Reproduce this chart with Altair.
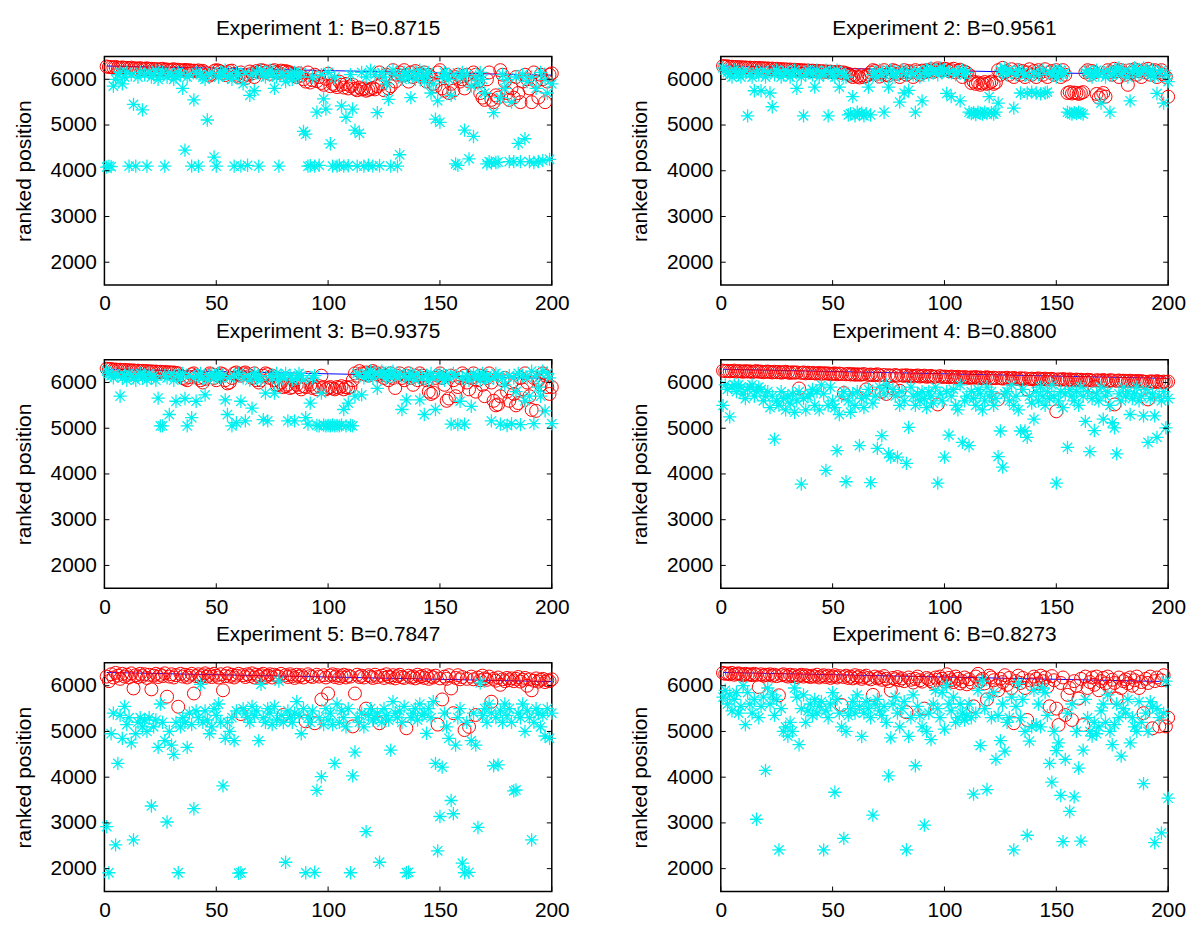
import altair as alt
import pandas as pd

X = list(range(1, 201))
XTICKS = [0, 50, 100, 150, 200]
YTICKS = [2000, 3000, 4000, 5000, 6000]
LINE_X = [1, 200]
LINE_Y = [6290, 6090]

TITLES = ["Experiment 1: B=0.8715", "Experiment 2: B=0.9561", "Experiment 3: B=0.9375",
          "Experiment 4: B=0.8800", "Experiment 5: B=0.7847", "Experiment 6: B=0.8273"]

R1 = [6280,6270,6265,6260,6270,6255,6250,6260,6245,6250,6240,6255,6235,6240,6230,6245,6225,6230,6240,6220,
      6230,6215,6225,6210,6220,6230,6205,6215,6200,6210,6220,6195,6210,6200,6190,6205,6195,6200,6185,6190,
      6180,6195,6170,6185,6150,6100,6080,6120,6180,6200,6190,6170,6130,6090,6150,6180,6190,6120,6080,6050,
      6150,6060,6020,6100,6170,6130,6050,6180,6160,6200,6190,6150,6170,6120,6180,6200,6160,6140,6190,6170,
      6180,6160,6150,6120,6100,6050,6130,6080,6000,5950,6150,5930,5980,6100,5960,6050,5920,5880,6010,6120,
      5850,5900,5870,5830,5950,5880,5820,5900,5800,5850,5880,5790,5760,5820,5780,5800,5750,5770,5790,5810,
      5780,5850,6150,5900,5760,6100,5800,5850,6200,5950,6100,6150,6080,6200,6100,5950,6150,6050,6180,6100,
      6120,6080,6150,5950,6100,6050,5900,5850,6150,6200,5800,5750,6100,5700,5900,5750,6050,6100,5950,6000,
      5800,6100,5950,6000,6150,6100,5950,5700,5600,5550,6000,6150,5550,5500,5650,5600,6200,6100,5950,5700,
      5550,5800,5600,6050,5700,5500,5950,6100,6000,5800,5500,6150,5950,5600,6100,6000,5500,5950,6100,6130]
C1 = [4080,4100,4090,5850,6000,6100,6150,5900,6050,6150,4100,6100,5450,4100,6050,6150,5330,6100,4100,6150,
      6050,6100,6200,6000,6100,6150,4100,6050,6150,6100,6000,6050,6150,6100,5800,4450,6050,6100,4100,5550,
      6150,4100,6100,6050,6000,5110,6100,6150,4300,4100,6050,6150,6100,6200,6050,6100,6000,4100,6150,6100,
      4100,5900,6150,4120,5650,6100,5750,6150,4100,6200,6100,6050,6150,6200,6100,5800,6050,4100,6150,6100,
      5950,6050,6100,6000,6150,6100,6050,6150,4860,4800,4100,4110,6050,4100,5280,4120,6100,5570,5350,6150,
      4590,4100,6050,4100,4120,5420,4100,5170,4110,6100,5350,4890,4100,4820,6150,4100,6050,4120,6200,4100,
      6100,5270,4110,6150,6050,5900,5560,4100,6200,6100,4100,4350,6000,6150,6100,6050,5600,6150,6000,6100,
      6200,6050,5950,6100,6150,5700,5900,5130,5530,5060,6050,6150,6100,6000,5650,6100,4150,4120,6050,6150,
      4890,6100,4260,5850,4750,6050,5900,6150,6000,5700,4150,4200,4170,5270,4180,4190,5600,6100,5800,6000,
      4200,5500,4200,6050,4600,4200,6100,4700,5950,4200,6050,4180,5800,4200,6150,4220,6000,5700,4250,5900]

R2 = [6290,6280,6285,6270,6275,6265,6270,6260,6265,6255,6260,6250,6255,6245,6250,6240,6250,6235,6245,6230,
      6240,6225,6235,6220,6230,6215,6225,6210,6220,6205,6215,6200,6210,6195,6205,6190,6200,6185,6195,6180,
      6190,6175,6185,6170,6180,6165,6175,6160,6170,6155,6160,6150,6165,6140,6150,6130,6120,6080,6050,6100,
      6060,6040,6090,6050,6070,6100,6150,6200,6180,6120,6060,6150,6200,6100,6080,6150,6200,6180,6120,6050,
      6150,6200,6100,6180,6150,6050,6200,6170,6100,6190,6150,6200,6180,6220,6160,6200,6240,6210,6190,6230,
      6220,6180,6200,6230,6150,6190,6210,6050,6170,6140,6100,5920,5950,5900,5930,5880,5910,5940,5900,5920,
      5950,5900,5930,6200,6100,6250,6150,6180,6100,6220,6050,6150,6200,6100,6180,6050,6150,6220,6100,6180,
      6050,6200,6150,6100,6220,6050,6150,6180,6100,6200,6150,6050,6200,6100,5700,5720,5690,5710,5700,5680,
      5700,5720,6150,6200,6100,6180,6150,5680,5600,5650,5700,5620,6200,6150,6100,6230,6180,6050,6200,6150,
      6100,5880,6200,6150,6220,6100,6180,6050,6200,6150,6230,6100,6180,6200,6050,6150,6200,6100,6050,5620]
C2 = [6250,6200,6150,6100,6050,6200,6150,6100,6050,6150,6200,5200,6100,6050,5750,6150,6100,5750,6200,6050,
      6150,5700,5400,6100,6200,6150,6050,6100,6200,6150,6050,6100,6200,5800,6150,6050,5200,6100,6200,6150,
      6100,5830,6200,6050,6150,6100,6200,5200,6150,6100,6050,6200,5830,6150,6100,6050,5220,5250,5620,5200,
      5280,5230,5260,5200,5250,5830,5220,6100,6150,6050,6200,6100,5280,6150,5830,6200,6100,6050,6150,5500,
      6200,5700,6100,5760,6150,6100,5280,6200,6050,5530,6150,6200,6100,6250,6150,6200,6100,6250,6150,6200,
      5690,6150,5620,6200,6100,6150,5530,6200,6100,6150,5280,5250,5270,5230,5280,5260,5240,5280,5250,5620,
      5270,5240,5280,5480,6200,6150,6250,6100,6200,6150,5370,6100,6200,5700,6150,6100,5700,6050,5720,6150,
      5700,6100,5680,6200,5700,5720,6150,6100,6200,6050,6150,6200,6100,6150,5280,5260,5240,5270,5250,5280,
      5260,5240,6150,6200,6100,6050,6150,6200,6100,5480,6150,6050,6200,5280,6100,6150,6200,6250,6100,6150,
      6200,6050,5530,6150,6250,6200,6100,6150,6250,6200,6150,6100,6200,6050,5690,6150,6200,5480,6100,5950]

R3 = [6300,6290,6295,6280,6285,6275,6280,6270,6275,6265,6270,6260,6265,6255,6260,6250,6255,6245,6250,6240,
      6245,6235,6240,6230,6235,6225,6230,6220,6225,6215,6220,6210,6200,6150,6100,6080,6050,6120,6180,6200,
      6150,6100,6050,6000,6080,6150,6200,6180,6100,6050,6150,6200,6180,6050,5980,6000,6100,6200,6220,6180,
      6150,6200,6220,6180,6150,6100,6200,6050,6000,6050,6150,6200,6180,6100,6150,6050,5950,5950,6000,5900,
      5920,5950,5880,5900,6050,5950,5900,5850,5920,5900,6100,5950,5880,5900,5850,5920,6150,5900,5850,5880,
      5900,5870,5850,5900,5880,5920,5850,5900,5880,5900,6050,6200,6150,6250,6200,6180,6220,6150,6200,6250,
      6220,6180,6150,6200,6100,6150,6050,6200,6100,5880,6150,6200,6100,6050,6150,6200,6100,5950,6150,6050,
      6200,6150,6100,6050,5800,5750,5780,6100,6150,6200,6100,5950,5600,5650,6150,6050,5700,5900,6100,6200,
      6150,6000,5850,6100,6200,5800,6050,6150,5950,5700,6100,6200,6000,5600,5500,5520,5700,6050,6100,5800,
      5600,6000,5750,5500,5550,6100,5850,6200,6000,5700,5400,6100,5380,6050,5950,6200,6150,5900,5750,5900]
C3 = [6250,6200,6150,6100,6200,6150,5700,6100,6150,6050,6200,6150,6100,6050,6150,6200,6100,6150,6050,6200,
      6100,6150,6050,5660,5050,5050,6150,6100,5300,6200,6050,5590,6150,6100,6200,5650,5050,6150,5230,6100,
      5590,6150,6200,6100,5730,6050,6150,6200,6100,6150,6200,6100,6150,5620,5300,6100,5050,6150,5120,6200,
      5590,6100,5160,6150,6050,5440,6200,6100,6150,6050,5190,5770,5160,6150,6100,5770,6200,6050,6150,6100,
      6200,5160,6150,6050,5160,6100,6200,6150,6050,5230,5090,5550,6100,6150,5060,5050,5770,5070,5050,5060,
      5050,5070,5050,5060,5050,5070,5410,5050,5550,5060,5050,5700,6200,6150,5730,6100,6200,6150,6250,6100,
      6200,5870,6150,6250,6200,6100,6150,6200,6250,6150,6100,6200,5410,6150,5620,6100,6200,6150,6050,6200,
      5620,6100,5300,6150,6050,6200,6100,5410,6150,6200,6100,6050,6150,6100,5090,6200,6150,5080,5590,6100,
      5090,6150,6050,5480,6200,6100,6150,6050,6200,6100,6150,6050,5160,6100,6200,6150,5090,6100,5950,5060,
      6150,5100,6100,5800,6200,5080,6150,5600,6100,5700,6250,5100,6150,5900,5700,6250,5380,6200,6100,5100]

R4 = [6260,6250,6255,6245,6250,6260,6240,6250,6245,6235,6250,6240,6245,6230,6240,6250,6235,6240,6225,6235,
      6240,6230,6220,6235,6225,6230,6215,6225,6235,6220,6210,6225,6215,6220,5870,6210,6220,6200,6215,6205,
      6210,6200,6195,6210,6190,6205,6195,6200,6185,6190,6200,6180,6195,6185,5770,6180,6190,6175,6185,6170,
      6180,6170,6175,6185,5850,6165,6175,6160,6170,6180,6155,5800,6165,5750,6160,6150,5870,6165,6150,5820,
      6155,6145,6160,6140,6150,6135,6145,6155,6130,6140,6150,6125,6135,6145,6120,6130,5520,6140,6120,6130,
      6125,6115,6130,6120,6110,6125,6115,6105,6120,6110,6100,6115,6105,6120,6100,6110,6095,6105,6115,6100,
      6090,6105,6095,5630,6100,6085,6095,6105,6080,6090,6100,6085,6075,6095,6080,6090,5850,6075,6085,6070,
      6080,6090,6070,6075,6085,6065,6075,6080,6065,5370,6070,6060,6075,6065,6055,6070,6060,6050,6065,6055,
      6060,6050,6045,6060,6055,6040,5910,6050,6045,6035,6055,6040,6030,6050,6045,5520,6035,6045,6030,6040,
      6035,6025,6040,6030,6020,6035,6025,6030,6020,6015,5630,6025,6020,6010,6030,6015,6005,6020,6010,6020]
C4 = [5500,5950,5850,5250,5900,5950,5800,5950,5900,5750,5650,5850,5900,5950,5700,5800,5900,5850,5600,5700,
      5800,5450,5700,4760,5600,5500,5800,5650,5400,5700,5550,5750,5350,5600,5800,3780,5650,5400,5700,5750,
      5850,5500,5800,5400,5950,5750,4080,5500,5900,5600,5450,4510,5300,5700,5800,3830,5600,5350,5750,5500,
      5800,4620,5650,5450,5700,5850,3810,5550,5700,4560,5900,4840,5750,5950,4440,4370,5850,5700,4370,5500,
      5800,5600,4230,5020,5900,5700,5500,5750,5600,5800,5650,5450,5800,5700,5550,5900,3800,5750,5600,4370,
      5800,4850,5700,5850,5500,5400,5950,4690,5600,5700,4620,5800,5650,5500,5850,5750,5400,5600,5900,5700,
      5800,5500,5650,4380,4940,4150,5750,5800,5600,5950,5500,5700,5400,4940,5850,4940,4800,5700,5550,5200,
      5800,5600,5900,5700,5500,5800,5650,5950,5700,3800,5600,5800,5450,5750,4580,5850,5700,5600,5800,5500,
      5900,5700,5150,5800,4490,5650,4950,5750,5600,5900,5200,5700,5800,5500,5120,5010,4440,5750,5600,5900,
      5700,5800,5300,5650,5750,5900,5600,5700,5270,5850,4690,5650,5750,5270,4800,5700,5600,5800,5010,5650]

R5 = [6200,6100,6250,6180,6280,6220,6150,6260,6200,6240,6180,6270,5940,6230,6190,6260,6210,6250,6170,6240,
      5920,6220,6260,6190,6240,6210,6270,5760,6200,6250,6180,6230,5540,6260,6200,6240,6180,6220,6260,5830,
      6210,6250,6180,6230,6270,6200,6240,6190,6260,6220,6180,6250,5900,6210,6270,6200,6240,6180,6220,6260,
      5380,6230,6190,6250,6210,6270,6180,6240,6200,6230,6260,6190,6220,6250,6180,6240,6210,6200,6260,5360,
      6230,6190,6250,6210,6170,6240,6200,6230,6180,5220,6250,6210,6190,5180,6240,6200,5700,6230,6180,5830,
      6220,6250,6190,6230,6170,6210,6240,6180,6220,6200,5110,5830,6240,6190,6220,6180,5500,6230,6200,6170,
      6240,6190,5180,6220,6170,6250,6200,6180,6230,6160,6210,6240,6190,6170,5070,6220,6180,6200,6160,6240,
      6190,6210,6170,6230,6150,6200,6180,6220,5150,6160,5700,6200,6150,6230,5940,5400,6170,6230,6140,6190,
      5030,6150,5100,6200,6140,5360,6180,6120,6220,6160,6130,6200,5650,6150,6110,6180,6020,6140,6100,6170,
      6120,6160,6100,6150,6190,6090,6130,6170,6000,6140,5900,6110,6160,6090,6130,6150,6080,6120,6100,6140]
C5 = [2920,1910,4950,5400,2520,4300,5350,4850,5550,5150,5300,4750,2630,4950,5200,5300,5100,5250,5000,5300,
      3370,5100,5250,4650,5600,5200,4800,3020,5000,4700,4500,5200,1910,5100,5300,5200,4650,5400,5150,3310,
      5450,5300,6030,5200,5450,5250,4950,5100,5500,5350,5600,5200,3810,4850,5200,5000,5300,4800,5450,1900,
      1910,5500,5400,5300,5200,5550,5350,5450,4800,6030,5300,5200,5500,5400,5150,5550,5250,6100,5350,5200,
      2140,5450,5300,5200,5400,5650,5350,4950,5500,1910,5300,5200,5450,1920,3710,5300,4010,5150,5500,5250,
      5400,5150,4300,5600,5200,5450,5300,5100,5500,1910,4030,4550,5300,5200,5400,5100,2810,5350,5500,5250,
      5300,5400,2140,5200,5500,5350,5250,4590,5650,5400,5300,5450,5200,5550,1910,1920,5300,5400,5500,5250,
      5600,5350,5400,4960,5500,5300,5650,4300,2390,3140,4220,5400,5100,4850,3490,3200,4700,5300,5500,2120,
      1910,5200,1920,4800,5400,4700,2900,6060,5350,5500,5200,5600,5400,4250,5300,4270,5450,5200,5600,5350,
      5500,5200,3700,3720,5400,5300,5600,5000,5450,5300,2630,5200,5500,5400,5100,5350,4900,5500,4850,5400]

R6 = [6280,6260,6270,6250,6280,6240,6260,6270,6250,6230,6260,6240,6250,6230,6260,6240,5970,6250,6220,6240,
      6230,6250,6220,6240,6210,5790,6230,6250,6220,6200,6240,6210,6230,6190,6220,6240,6200,6230,6210,6190,
      6220,6200,6240,6180,6210,6230,6190,6220,6170,6200,6230,6180,6210,5580,6190,6220,6170,6200,6160,6230,
      6180,6210,6150,6190,6220,6170,6140,5800,6200,6160,6180,6130,6210,6150,6100,5900,6170,6140,6190,6120,
      6160,6100,5420,6180,6130,6070,6150,6200,6120,6090,5500,6170,6140,6100,6060,6180,6130,6200,6150,6090,
      6250,6170,6120,6080,6200,6150,6050,6100,6180,6030,6140,6070,5550,6200,6260,6100,6150,6050,5700,6220,
      6180,6120,6000,5900,6150,6080,6230,6020,6170,5950,5180,6100,6220,6060,6170,5950,5250,6120,6030,6200,
      6150,6050,6220,6100,6180,5980,5550,6210,6120,5500,5140,6060,6180,5360,5800,5950,5250,6100,6000,5720,
      6150,5140,6200,5950,6080,6180,6020,6200,5900,6100,6170,6050,6200,5980,6130,6060,5720,6180,5950,6100,
      6140,6050,6180,6000,6120,6200,5950,6080,5400,6150,6060,6200,5070,6100,6180,5110,6120,6230,5110,5300]
C6 = [5750,5900,5600,5800,5450,5700,5850,5400,5550,6000,5150,5850,5600,5400,5700,3080,5300,5550,5750,4150,
      5950,5600,5800,5350,5700,2410,5500,5000,5100,4900,5200,5000,5950,5750,4710,5500,5800,5200,5450,5600,
      5350,5700,5400,5550,5650,2410,5450,5300,5600,5850,3670,5700,5400,5100,2660,5000,5350,5500,5650,5400,
      5800,5550,4890,5400,5650,5500,5300,3170,5600,5700,5450,5350,5550,5200,4030,4860,5600,5750,5400,5100,
      5500,5650,2410,4890,5300,5800,4250,5550,5350,5100,2950,5000,5400,4820,5600,5900,5500,5300,5850,5050,
      6000,5600,5450,5750,5200,5300,5600,5400,5250,5350,5600,5300,3630,5400,5900,4690,6100,5500,3730,5750,
      5300,5850,4390,5350,4800,5600,4570,5200,5300,5750,2410,5550,6050,5300,5700,5000,2730,4790,5100,5900,
      5150,5600,5100,5950,5850,5350,4300,3890,5000,4580,4750,3600,2590,4390,5400,3250,5600,3570,5000,4200,
      2600,4590,5700,5300,5000,4900,5200,4950,5100,5450,5600,5200,5800,5000,4710,5150,5600,5300,4460,5500,
      5400,5700,4750,5300,5100,5000,5650,5200,3860,5400,5000,5650,5550,2570,5500,5300,2780,5400,6100,3540]

REDS = [R1, R2, R3, R4, R5, R6]
CYANS = [C1, C2, C3, C4, C5, C6]

W, H = 450, 230
FONT = "Liberation Sans"
STAR = "M-1,0L1,0M0,-1L0,1M-0.7,-0.7L0.7,0.7M-0.7,0.7L0.7,-0.7"

XAX = alt.Axis(values=XTICKS, title=None, grid=False, domain=False, tickSize=0,
               labelPadding=8, labelFontSize=21, labelFont=FONT, labelColor="black",
               labelFlush=False)
YAX = alt.Axis(values=YTICKS, title="ranked position", grid=False, domain=False, tickSize=0,
               labelPadding=8, labelFontSize=21, labelFont=FONT, labelColor="black",
               titleFont=FONT, titleFontSize=21, titleFontWeight="normal", titleColor="black",
               titlePadding=16, format="d")


def panel(i):
    df = pd.DataFrame({"x": X, "red": REDS[i], "cyan": CYANS[i]})
    xs = alt.Scale(domain=[0, 200], nice=False, zero=False)
    ys = alt.Scale(domain=[1500, 6500], nice=False, zero=False)
    line = alt.Chart(pd.DataFrame({"x": LINE_X, "y": LINE_Y})).mark_line(
        color="#0000ff", strokeWidth=1).encode(
        x=alt.X("x:Q", scale=xs, axis=XAX), y=alt.Y("y:Q", scale=ys, axis=YAX))
    red = alt.Chart(df).mark_point(shape="circle", filled=False, color="#ff0000",
                                   size=170, strokeWidth=1, opacity=1).encode(
        x=alt.X("x:Q", scale=xs, axis=XAX), y=alt.Y("red:Q", scale=ys, axis=YAX))
    cyan = alt.Chart(df).mark_point(shape=STAR, filled=False, color="#00f0f0",
                                    size=180, strokeWidth=1.3, opacity=1).encode(
        x=alt.X("x:Q", scale=xs, axis=XAX), y=alt.Y("cyan:Q", scale=ys, axis=YAX))
    ty = pd.DataFrame({"t": YTICKS})
    tx = pd.DataFrame({"t": XTICKS})
    tl = alt.Chart(ty).mark_rule(color="black").encode(
        y=alt.Y("t:Q", scale=ys, axis=YAX), x=alt.value(0), x2=alt.value(5))
    tr = alt.Chart(ty).mark_rule(color="black").encode(
        y=alt.Y("t:Q", scale=ys, axis=YAX), x=alt.value(W - 5), x2=alt.value(W))
    tb = alt.Chart(tx).mark_rule(color="black").encode(
        x=alt.X("t:Q", scale=xs, axis=XAX), y=alt.value(H), y2=alt.value(H - 5))
    tt = alt.Chart(tx).mark_rule(color="black").encode(
        x=alt.X("t:Q", scale=xs, axis=XAX), y=alt.value(0), y2=alt.value(5))
    return alt.layer(line, red, cyan, tl, tr, tb, tt).properties(
        width=W, height=H,
        view=alt.ViewBackground(stroke="black", strokeWidth=1.5),
        title=alt.TitleParams(TITLES[i], fontSize=21, font=FONT, fontWeight="normal",
                              color="black", offset=17, anchor="middle"))


rows = [alt.hconcat(panel(2 * r), panel(2 * r + 1), spacing=58) for r in range(3)]
chart = alt.vconcat(*rows, spacing=5).properties(
    padding={"left": 4, "top": 6, "right": 5, "bottom": 5}
).configure_view(stroke="black", strokeWidth=1.5).configure(background="white")

chart.save("out.html", embed_options={"renderer": "svg", "actions": False})
